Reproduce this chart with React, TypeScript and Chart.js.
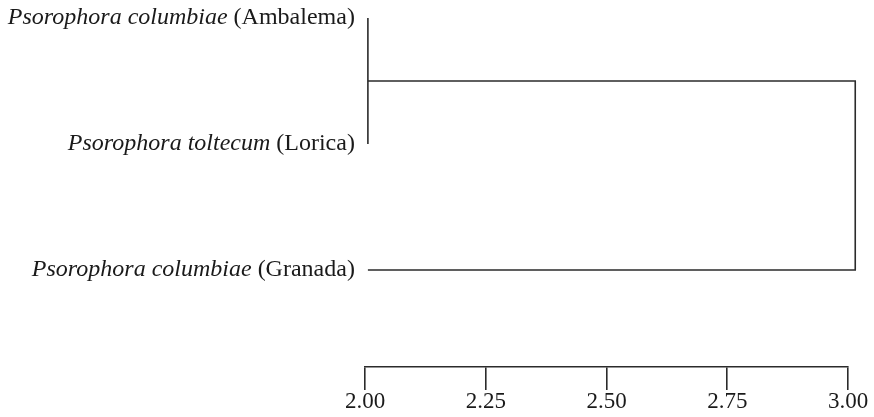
import React, { useEffect, useRef } from "react";
import { Chart, registerables } from "chart.js";

Chart.register(...registerables);

// Leaves of the dendrogram, top to bottom
const leafSpecies = ["Psorophora columbiae", "Psorophora toltecum", "Psorophora columbiae"];
const leafLocality = ["(Ambalema)", "(Lorica)", "(Granada)"];
const leafOrder = [0, 1, 2];
const leafDistance = 2.006;

// Linkage: each merge joins two nodes ("L<i>" leaf, "M<i>" earlier merge) at a distance
const mergeLeft = ["L0", "M0"];
const mergeRight = ["L1", "L2"];
const mergeDistance = [2.006, 3.015];

// Distance scale
const axisMin = 2.0;
const axisMax = 3.0;
const axisStep = 0.25;

const SERIF = '"Liberation Serif", "Times New Roman", serif';
const LINE = "#2b2b2b";

type Pt = { x: number; y: number };

function buildBranches(): Pt[][] {
  const nodes: Record<string, Pt> = {};
  leafOrder.forEach((r, i) => {
    nodes["L" + i] = { x: leafDistance, y: r };
  });
  const branches: Pt[][] = [];
  mergeDistance.forEach((h, i) => {
    const a = nodes[mergeLeft[i]];
    const b = nodes[mergeRight[i]];
    branches.push([
      { x: a.x, y: a.y },
      { x: h, y: a.y },
      { x: h, y: b.y },
      { x: b.x, y: b.y },
    ]);
    nodes["M" + i] = { x: h, y: (a.y + b.y) / 2 };
  });
  return branches;
}

const leafLabelPlugin = {
  id: "leafLabels",
  afterDraw(chart: any) {
    const { ctx, scales } = chart;
    const xs = scales.x;
    const ys = scales.y;
    const fontSize = 24;
    ctx.save();
    ctx.fillStyle = "#1a1a1a";
    ctx.textBaseline = "middle";
    ctx.textAlign = "left";
    leafOrder.forEach((r, i) => {
      const right = xs.getPixelForValue(leafDistance) - 13;
      const y = ys.getPixelForValue(r);
      ctx.font = `normal ${fontSize}px ${SERIF}`;
      const loc = leafLocality[i];
      const wLoc = ctx.measureText(loc).width;
      ctx.fillText(loc, right - wLoc, y);
      ctx.font = `italic ${fontSize}px ${SERIF}`;
      const sp = leafSpecies[i] + " ";
      const wSp = ctx.measureText(sp).width;
      ctx.fillText(sp, right - wLoc - wSp, y);
    });
    ctx.restore();
  },
};

export default function App() {
  const ref = useRef<HTMLCanvasElement | null>(null);

  useEffect(() => {
    if (!ref.current) return;
    const branches = buildBranches();
    const chart = new Chart(ref.current, {
      type: "line",
      data: {
        datasets: branches.map((pts) => ({
          data: pts,
          borderColor: LINE,
          borderWidth: 1.6,
          pointRadius: 0,
          fill: false,
          tension: 0,
          clip: false as any,
        })),
      },
      options: {
        animation: false,
        responsive: true,
        maintainAspectRatio: false,
        layout: { padding: { left: 365, right: 26, top: 5.4, bottom: 3 } },
        plugins: {
          legend: { display: false },
          tooltip: { enabled: false },
        },
        scales: {
          x: {
            type: "linear",
            min: axisMin,
            max: axisMax,
            ticks: {
              stepSize: axisStep,
              padding: 0,
              color: "#1a1a1a",
              font: { family: SERIF, size: 23, lineHeight: 1.04 },
              callback: (v: any) => Number(v).toFixed(2),
            },
            grid: {
              drawOnChartArea: false,
              drawTicks: true,
              tickLength: 23,
              color: LINE,
              lineWidth: 1.6,
            },
            border: { display: true, color: LINE, width: 1.6 },
          },
          y: {
            type: "linear",
            display: false,
            reverse: true,
            min: -0.1,
            max: 2.77,
          },
        },
      },
      plugins: [leafLabelPlugin],
    });
    return () => chart.destroy();
  }, []);

  return (
    <div style={{ position: "fixed", left: 0, top: 0, width: 874, height: 417, background: "#fff" }}>
      <canvas ref={ref} />
    </div>
  );
}
